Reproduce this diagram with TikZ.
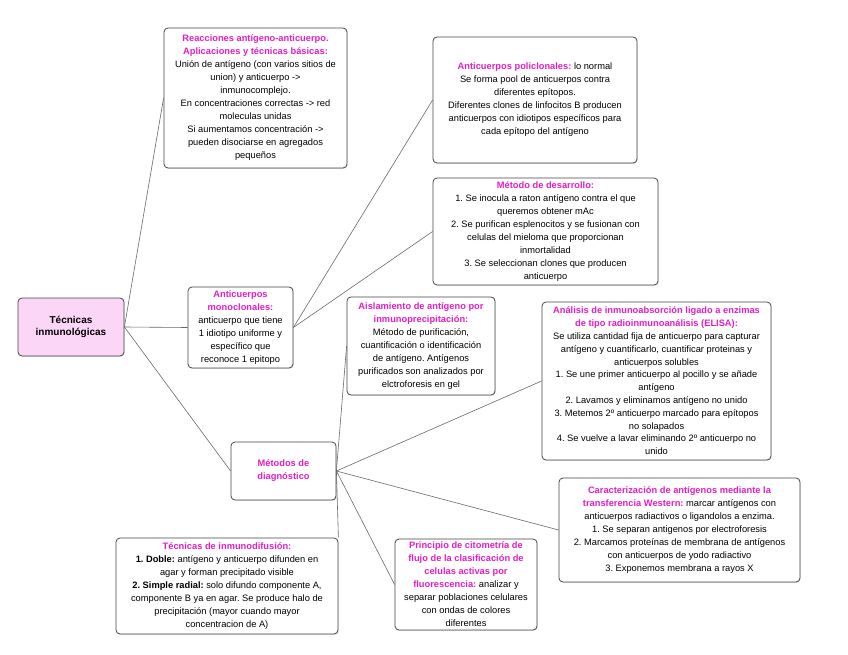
\documentclass[tikz,border=0pt]{standalone}
\usepackage{fontspec}
\setmainfont{Liberation Sans}
\usetikzlibrary{shadows}
\definecolor{mag}{RGB}{228,30,196}
\definecolor{edgec}{RGB}{70,70,70}
\definecolor{connc}{RGB}{105,105,105}
\definecolor{pinkfill}{RGB}{251,214,246}
\newcommand{\ttl}[1]{\textcolor{mag}{\textbf{#1}}}
\frenchspacing
\begin{document}
\begin{tikzpicture}[x=1pt,y=-1pt,
  box/.style={draw=edgec, line width=0.8pt, rounded corners=4pt, fill=white,
    align=center, inner sep=1pt, font=\fontsize{9.3}{13}\selectfont,
    drop shadow={opacity=0.25, shadow xshift=0.6pt, shadow yshift=-0.8pt}},
  link/.style={draw=connc, line width=0.6pt}]
\useasboundingbox[fill=white] (0,0) rectangle (848,655);

\node[box, minimum width=183pt, minimum height=140pt] (R) at (255.5,98)
 {\ttl{Reacciones antígeno-anticuerpo.}\\ \ttl{Aplicaciones y técnicas básicas:}\\
  Unión de antígeno (con varios sitios de\\ union) y anticuerpo ->\\ inmunocomplejo.\\
  En concentraciones correctas -> red\\ moleculas unidas\\ Si aumentamos concentración ->\\
  pueden disociarse en agregados\\ pequeños};

\node[box, minimum width=204pt, minimum height=126pt] (P) at (535,100)
 {\ttl{Anticuerpos policlonales:} lo normal\\ Se forma pool de anticuerpos contra\\
  diferentes epítopos.\\ Diferentes clones de linfocitos B producen\\
  anticuerpos con idiotipos específicos para\\ cada epítopo del antígeno};

\node[box, minimum width=225pt, minimum height=107pt] (D) at (545.5,231.5)
 {\ttl{Método de desarrollo:}\\ 1. Se inocula a raton antígeno contra el que\\
  queremos obtener mAc\\ 2. Se purifican esplenocitos y se fusionan con\\
  celulas del mieloma que proporcionan\\ inmortalidad\\ 3. Se seleccionan clones que producen\\ anticuerpo};

\node[box, fill=pinkfill, minimum width=106pt, minimum height=58pt,
  font=\fontsize{10}{12}\selectfont\bfseries] (T) at (71,327)
 {Técnicas\\ inmunológicas};

\node[box, minimum width=105pt, minimum height=81pt] (M) at (240.5,327.5)
 {\ttl{Anticuerpos}\\ \ttl{monoclonales:}\\ anticuerpo que tiene\\ 1 idiotipo uniforme y\\
  específico que\\ reconoce 1 epitopo};

\node[box, minimum width=148pt, minimum height=98pt] (A) at (421,346)
 {\ttl{Aislamiento de antígeno por}\\ \ttl{inmunoprecipitación:}\\ Método de purificación,\\
  cuantificación o identificación\\ de antígeno. Antígenos\\ purificados son analizados por\\
  elctroforesis en gel};

\node[box, minimum width=229pt, minimum height=158pt, font=\fontsize{9.3}{12.8}\selectfont] (E) at (656.5,381)
 {\ttl{Análisis de inmunoabsorción ligado a enzimas}\\ \ttl{de tipo radioinmunoanálisis (ELISA):}\\
  Se utiliza cantidad fija de anticuerpo para capturar\\ antígeno y cuantificarlo, cuantificar proteinas y\\
  anticuerpos solubles\\ 1. Se une primer anticuerpo al pocillo y se añade\\ antígeno\\
  2. Lavamos y eliminamos antígeno no unido\\ 3. Metemos 2º anticuerpo marcado para epítopos\\
  no solapados\\ 4. Se vuelve a lavar eliminando 2º anticuerpo no\\ unido};

\node[box, minimum width=105pt, minimum height=58pt] (MD) at (283.5,471)
 {\ttl{Métodos de}\\ \ttl{diagnóstico}};

\node[box, minimum width=241pt, minimum height=104pt] (W) at (679.5,530)
 {\ttl{Caracterización de antígenos mediante la}\\ \ttl{transferencia Western:} marcar antígenos con\\
  anticuerpos radiactivos o ligandolos a enzima.\\ 1. Se separan antigenos por electroforesis\\
  2. Marcamos proteínas de membrana de antígenos\\ con anticuerpos de yodo radiactivo\\
  3. Exponemos membrana a rayos X};

\node[box, minimum width=222pt, minimum height=96pt] (I) at (227,586)
 {\ttl{Técnicas de inmunodifusión:}\\ \textbf{1. Doble:} antígeno y anticuerpo difunden en\\
  agar y forman precipitado visible\\ \textbf{2. Simple radial:} solo difundo componente A,\\
  componente B ya en agar. Se produce halo de\\ precipitación (mayor cuando mayor\\
  concentracion de A)};

\node[box, minimum width=142pt, minimum height=91pt] (C) at (466,584.5)
 {\ttl{Principio de citometría de}\\ \ttl{flujo de la clasificación de}\\ \ttl{celulas activas por}\\
  \ttl{fluorescencia:} analizar y\\ separar poblaciones celulares\\ con ondas de colores\\ diferentes};

\draw[link] (T.east) -- (R.west);
\draw[link] (T.east) -- (M.west);
\draw[link] (T.east) -- (MD.west);
\draw[link] (M.east) -- (P.west);
\draw[link] (M.east) -- (D.west);
\draw[link] (MD.east) -- (A.west);
\draw[link] (MD.east) -- (E.west);
\draw[link] (MD.east) -- (W.west);
\draw[link] (MD.east) -- (C.west);
\draw[link] (MD.east) -- (I.north east);
\end{tikzpicture}
\end{document}
